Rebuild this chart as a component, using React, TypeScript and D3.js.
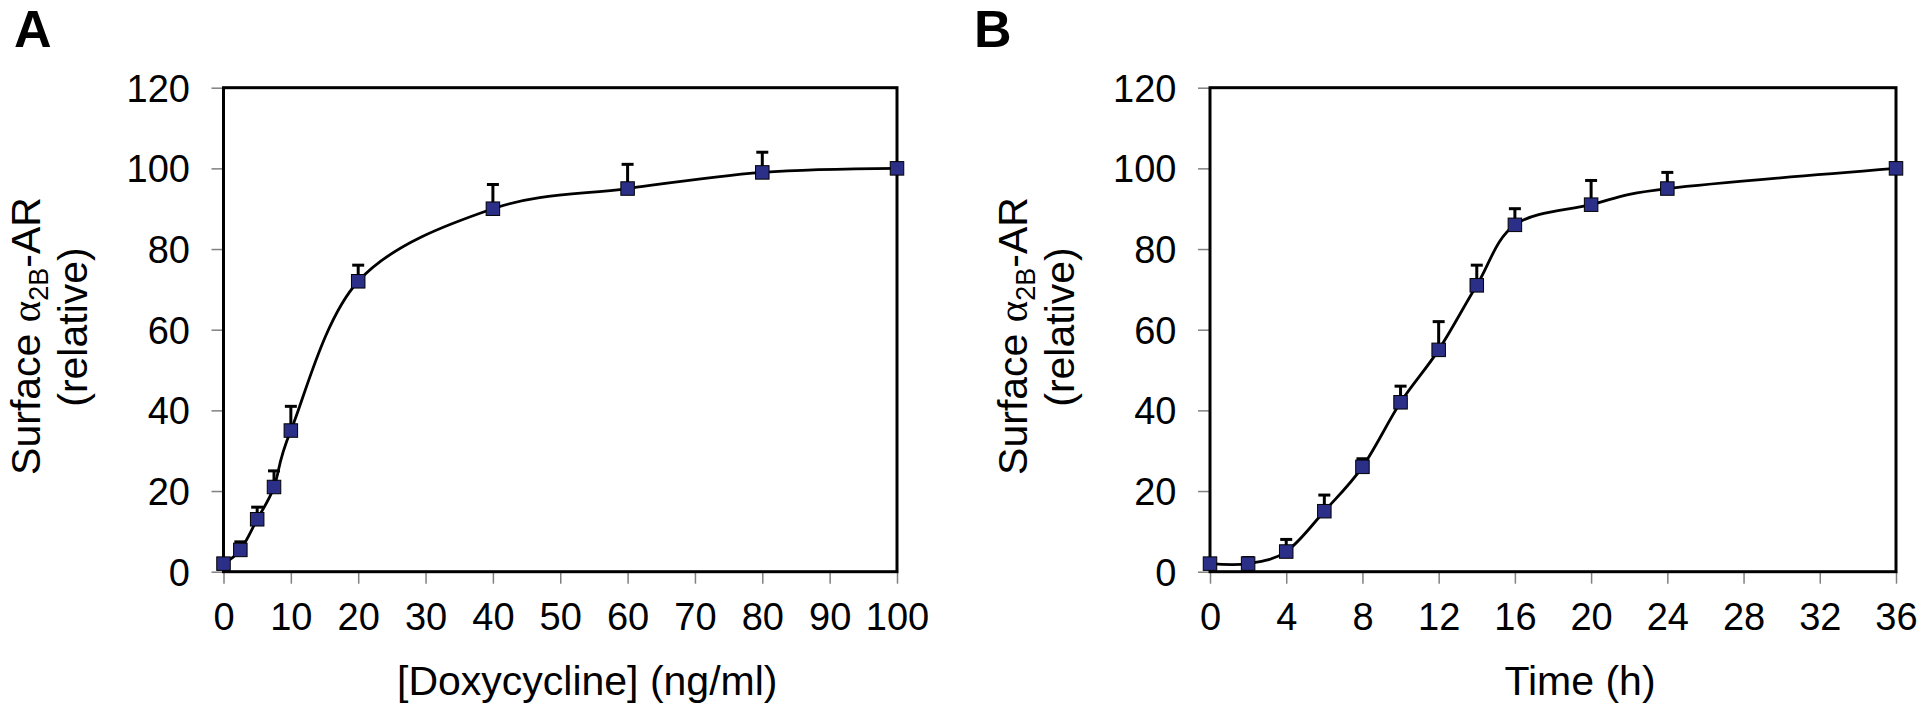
import React, { useEffect, useRef } from 'react';
import * as d3 from 'd3';

const FONT = "'Liberation Sans', Arial, Helvetica, sans-serif";

// Panel A: dose response
const doseX = [0, 2.5, 5, 7.5, 10, 20, 40, 60, 80, 100];
const doseY = [2, 5.4, 13, 21, 35, 72, 90, 95, 99, 100];
const doseErr = [0, 2, 3, 4, 6, 4, 6, 6, 5, 0];
const doseTicks = [0, 10, 20, 30, 40, 50, 60, 70, 80, 90, 100];

// Panel B: time course
const timeX = [0, 2, 4, 6, 8, 10, 12, 14, 16, 20, 24, 36];
const timeY = [2, 2, 5, 15, 26, 42, 55, 71, 86, 91, 95, 100];
const timeErr = [0, 1.5, 3, 4, 2, 4, 7, 5, 4, 6, 4, 0];
const timeTicks = [0, 4, 8, 12, 16, 20, 24, 28, 32, 36];

const yTicks = [0, 20, 40, 60, 80, 100, 120];

const MARKER = '#2b2f88';

interface PanelCfg {
  letter: string;
  letterX: number;
  left: number;
  right: number;
  xDomain: [number, number];
  xTicks: number[];
  xs: number[];
  ys: number[];
  errs: number[];
  xLabel: string;
}

function drawPanel(svg: any, cfg: PanelCfg) {
  const top = 87.7;
  const bottom = 571.7;
  const g = svg.append('g');
  const x = d3.scaleLinear().domain(cfg.xDomain).range([cfg.left, cfg.right]);
  const y = d3.scaleLinear().domain([0, 120]).range([bottom, top]);

  // y axis
  const ya = g
    .append('g')
    .attr('transform', `translate(${cfg.left},0)`)
    .call(d3.axisLeft(y).tickValues(yTicks).tickSize(12).tickPadding(21.5));
  ya.select('.domain').remove();
  ya.selectAll('line').attr('stroke', '#808080').attr('stroke-width', 1.5);
  ya.selectAll('text')
    .attr('font-family', FONT)
    .attr('font-size', 38)
    .attr('fill', '#000')
    .attr('dy', '0.35em');

  // x axis
  const xa = g
    .append('g')
    .attr('transform', `translate(0,${bottom})`)
    .call(d3.axisBottom(x).tickValues(cfg.xTicks).tickSize(12));
  xa.select('.domain').remove();
  xa.selectAll('line').attr('stroke', '#808080').attr('stroke-width', 1.5);
  xa.selectAll('text')
    .attr('font-family', FONT)
    .attr('font-size', 38)
    .attr('fill', '#000')
    .attr('y', 58)
    .attr('dy', '0');

  // frame
  g.append('rect')
    .attr('x', cfg.left)
    .attr('y', top)
    .attr('width', cfg.right - cfg.left)
    .attr('height', bottom - top)
    .attr('fill', 'none')
    .attr('stroke', '#000')
    .attr('stroke-width', 3);

  const pts: [number, number][] = cfg.xs.map((v, i) => [v, cfg.ys[i]]);

  // smooth line
  const line = d3
    .line<[number, number]>()
    .x((d) => x(d[0]))
    .y((d) => y(d[1]))
    .curve(d3.curveCardinal.tension(0));
  g.append('path')
    .attr('d', line(pts))
    .attr('fill', 'none')
    .attr('stroke', '#000')
    .attr('stroke-width', 2.8);

  // error bars (upper only)
  const eb = g.append('g').attr('stroke', '#000').attr('stroke-width', 3);
  pts.forEach((p, i) => {
    const e = cfg.errs[i];
    if (!e) return;
    const cx = x(p[0]);
    eb.append('line')
      .attr('x1', cx)
      .attr('x2', cx)
      .attr('y1', y(p[1]))
      .attr('y2', y(p[1] + e));
    eb.append('line')
      .attr('x1', cx - 6)
      .attr('x2', cx + 6)
      .attr('y1', y(p[1] + e))
      .attr('y2', y(p[1] + e));
  });

  // markers
  const s = 13.5;
  g.append('g')
    .selectAll('rect')
    .data(pts)
    .join('rect')
    .attr('x', (d: [number, number]) => x(d[0]) - s / 2)
    .attr('y', (d: [number, number]) => y(d[1]) - s / 2)
    .attr('width', s)
    .attr('height', s)
    .attr('fill', MARKER)
    .attr('stroke', '#000')
    .attr('stroke-width', 1);

  // x label
  g.append('text')
    .attr('x', (cfg.left + cfg.right) / 2 + 27)
    .attr('y', 695)
    .attr('text-anchor', 'middle')
    .attr('font-family', FONT)
    .attr('font-size', 41)
    .attr('fill', '#000')
    .text(cfg.xLabel);

  // y label
  const off = cfg.left - 223.5;
  const l1 = g
    .append('text')
    .attr('transform', `translate(${40 + off},336) rotate(-90)`)
    .attr('text-anchor', 'middle')
    .attr('font-family', FONT)
    .attr('font-size', 41)
    .attr('fill', '#000');
  l1.append('tspan').text('Surface ');
  l1.append('tspan').attr('font-family', "'Liberation Serif', 'DejaVu Serif', serif").text('α');
  l1.append('tspan').attr('font-size', 27).attr('dy', 8).text('2B');
  l1.append('tspan').attr('dy', -8).text('-AR');

  g.append('text')
    .attr('transform', `translate(${87 + off},327) rotate(-90)`)
    .attr('text-anchor', 'middle')
    .attr('font-family', FONT)
    .attr('font-size', 41)
    .attr('fill', '#000')
    .text('(relative)');

  // panel letter
  g.append('text')
    .attr('x', cfg.letterX)
    .attr('y', 47)
    .attr('font-family', FONT)
    .attr('font-weight', 'bold')
    .attr('font-size', 52)
    .attr('fill', '#000')
    .text(cfg.letter);
}

export default function App() {
  const ref = useRef<SVGSVGElement | null>(null);
  useEffect(() => {
    const svg = d3.select(ref.current);
    svg.selectAll('*').remove();
    svg.append('rect').attr('width', 1920).attr('height', 710).attr('fill', '#fff');
    drawPanel(svg, {
      letter: 'A',
      letterX: 14,
      left: 223.5,
      right: 897,
      xDomain: [0, 100],
      xTicks: doseTicks,
      xs: doseX,
      ys: doseY,
      errs: doseErr,
      xLabel: '[Doxycycline] (ng/ml)',
    });
    drawPanel(svg, {
      letter: 'B',
      letterX: 974,
      left: 1210,
      right: 1896,
      xDomain: [0, 36],
      xTicks: timeTicks,
      xs: timeX,
      ys: timeY,
      errs: timeErr,
      xLabel: 'Time (h)',
    });
  }, []);
  return (
    <svg
      ref={ref}
      width={1920}
      height={710}
      style={{ position: 'absolute', left: 0, top: 0, display: 'block' }}
    />
  );
}
